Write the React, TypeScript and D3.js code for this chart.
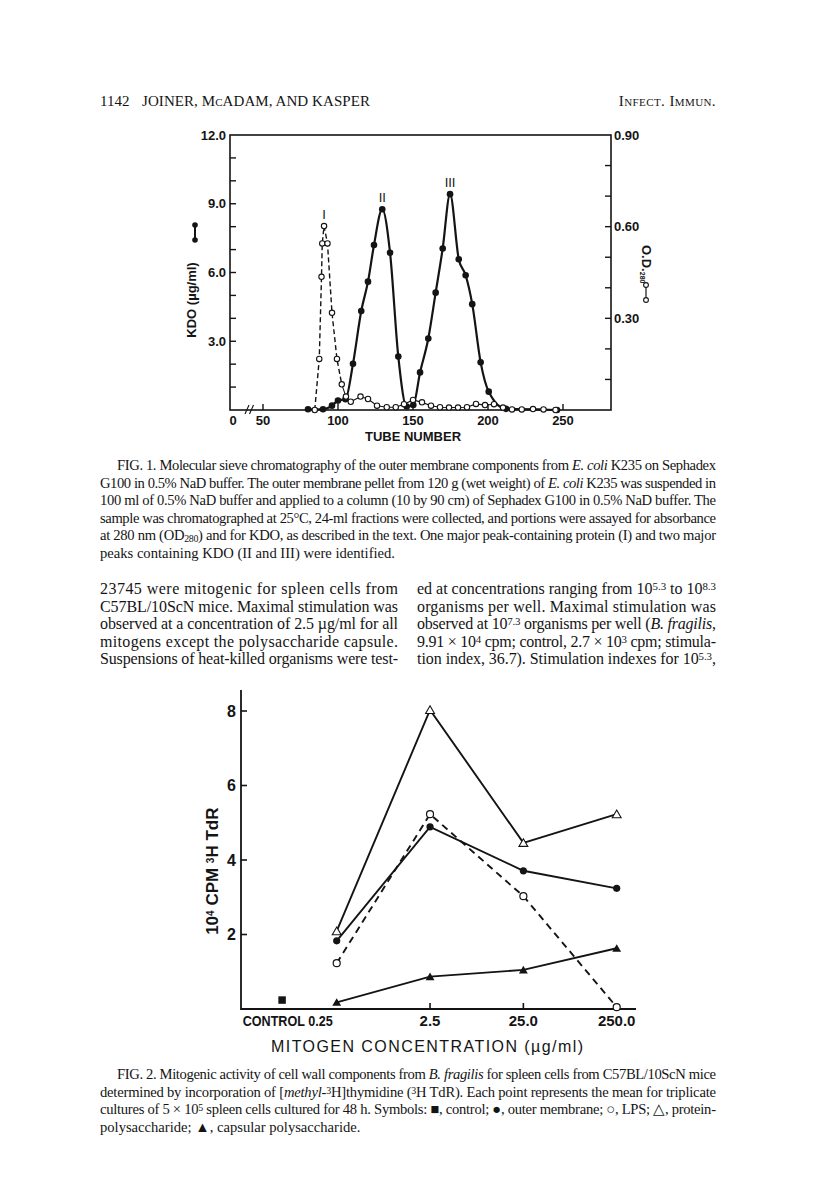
import React, { useEffect, useRef } from 'react';
import { select, scaleLinear, scaleLog, line, curveMonotoneX, curveLinear, symbol, symbolTriangle, symbolSquare, range } from 'd3';

// ---- Fig. 1 data (tube number vs KDO / OD280) ----
const tubeTicks = [50, 100, 150, 200, 250];
const kdoTicks = [3, 6, 9, 12];
const odTicks = [0.3, 0.6, 0.9];

const kdoTubes = [80, 90, 96, 100, 105, 110, 115.5, 120, 124, 129.5, 134.7, 140.2, 145.8, 150.2, 154.7, 160.2, 165.1, 169.8, 174.7, 180.5, 185.1, 189.5, 195.1, 200.5, 212, 246];
const kdoValues = [0.03, 0.03, 0.19, 0.41, 0.47, 2.02, 4.32, 5.6, 7.2, 8.76, 6.86, 2.33, 0.15, 0.22, 1.64, 3.12, 5.12, 7.05, 9.42, 6.58, 5.88, 4.62, 2.08, 0.8, 0.05, 0];

const odTubes = [84.5, 87.5, 89, 89.5, 90.7, 93, 96, 99.3, 102.5, 105.3, 108.5, 115, 120, 126, 132.5, 138.5, 144, 150, 156, 162, 168, 174, 180, 186, 192, 198, 204, 210, 216, 222.5, 230, 237, 245];
const odValues = [0, 0.167, 0.436, 0.545, 0.602, 0.545, 0.318, 0.167, 0.084, 0.044, 0.027, 0.044, 0.036, 0.014, 0.009, 0.009, 0.019, 0.033, 0.025, 0.014, 0.009, 0.008, 0.008, 0.009, 0.02, 0.016, 0.019, 0.008, 0.002, 0.002, 0.003, 0.002, 0];
const odDashedUntil = 8; // index where the dashed peak part ends

const peakLabels = ['I', 'II', 'III'];
const peakTubes = [90.7, 129.5, 174.7];

// ---- Fig. 2 data (mitogen concentration vs 10^4 cpm) ----
const doses = [0.25, 2.5, 25, 250];
const doseLabels = ['0.25', '2.5', '25.0', '250.0'];
const cpmTicks = [2, 4, 6, 8];
const controlDose = 0.065;
const controlValue = 0.24;
const outerMembrane = [1.83, 4.89, 3.71, 3.24];
const lps = [1.23, 5.23, 3.03, 0.05];
const proteinPoly = [2.09, 8.03, 4.46, 5.23];
const capsular = [0.18, 0.87, 1.05, 1.63];

// ---- page text ----
type Seg = [string, string?];
const fig1Caption: Seg[][] = [
  [['FIG. 1. Molecular sieve chromatography of the outer membrane components from '], ['E. coli', 'i'], [' K235 on Sephadex']],
  [['G100 in 0.5% NaD buffer. The outer membrane pellet from 120 g (wet weight) of '], ['E. coli', 'i'], [' K235 was suspended in']],
  [['100 ml of 0.5% NaD buffer and applied to a column (10 by 90 cm) of Sephadex G100 in 0.5% NaD buffer. The']],
  [['sample was chromatographed at 25°C, 24-ml fractions were collected, and portions were assayed for absorbance']],
  [['at 280 nm (OD'], ['280', 'sub'], [') and for KDO, as described in the text. One major peak-containing protein (I) and two major']],
  [['peaks containing KDO (II and III) were identified.']],
];
const bodyLeft: Seg[][] = [
  [['23745 were mitogenic for spleen cells from']],
  [['C57BL/10ScN mice. Maximal stimulation was']],
  [['observed at a concentration of 2.5 µg/ml for all']],
  [['mitogens except the polysaccharide capsule.']],
  [['Suspensions of heat-killed organisms were test-']],
];
const bodyRight: Seg[][] = [
  [['ed at concentrations ranging from 10'], ['5.3', 'sup'], [' to 10'], ['8.3', 'sup']],
  [['organisms per well. Maximal stimulation was']],
  [['observed at 10'], ['7.3', 'sup'], [' organisms per well ('], ['B. fragilis', 'i'], [',']],
  [['9.91 × 10'], ['4', 'sup'], [' cpm; control, 2.7 × 10'], ['3', 'sup'], [' cpm; stimula-']],
  [['tion index, 36.7). Stimulation indexes for 10'], ['5.3', 'sup'], [',']],
];
const fig2Caption: Seg[][] = [
  [['FIG. 2. Mitogenic activity of cell wall components from '], ['B. fragilis', 'i'], [' for spleen cells from C57BL/10ScN mice']],
  [['determined by incorporation of ['], ['methyl', 'i'], ['-'], ['3', 'sup'], ['H]thymidine ('], ['3', 'sup'], ['H TdR). Each point represents the mean for triplicate']],
  [['cultures of 5 × 10'], ['5', 'sup'], [' spleen cells cultured for 48 h. Symbols: ■, control; ●, outer membrane; ○, LPS; △, protein-']],
  [['polysaccharide; ▲, capsular polysaccharide.']],
];

const SERIF = '"Liberation Serif", "Times New Roman", serif';
const SANS = '"Liberation Sans", Arial, sans-serif';
const INK = '#141414';

function addLine(g: any, x: number, y: number, segs: Seg[], size: number, width?: number) {
  const t = g.append('text')
    .attr('x', x).attr('y', y)
    .attr('font-family', SERIF).attr('font-size', size).attr('fill', INK);
  segs.forEach(([s, k]) => {
    const ts = t.append('tspan').text(s);
    if (k === 'i') ts.attr('font-style', 'italic');
    if (k === 'sup') ts.attr('baseline-shift', '35%').attr('font-size', size * 0.68);
    if (k === 'sub') ts.attr('baseline-shift', '-20%').attr('font-size', size * 0.68);
  });
  if (width) t.attr('textLength', width).attr('lengthAdjust', 'spacing');
}

// justified lines, last line of a paragraph left ragged
function addParagraph(g: any, lines: Seg[][], x: number, y0: number, lh: number, right: number, size: number, indent = 0, lastRagged = true) {
  lines.forEach((segs, i) => {
    const lx = x + (i === 0 ? indent : 0);
    const ragged = lastRagged && i === lines.length - 1;
    addLine(g, lx, y0 + i * lh, segs, size, ragged ? undefined : right - lx);
  });
}

export default function App() {
  const ref = useRef<SVGSVGElement>(null);

  useEffect(() => {
    const svg = select(ref.current);
    svg.selectAll('*').remove();
    svg.append('rect').attr('width', 816).attr('height', 1200).attr('fill', '#fff');

    // 页眉
    const head = svg.append('g').attr('font-family', SERIF).attr('font-size', 15).attr('fill', INK);
    head.append('text').attr('x', 100).attr('y', 106).text('1142');
    head.append('text').attr('x', 142).attr('y', 106).attr('textLength', 228).attr('lengthAdjust', 'spacing')
      .style('font-variant', 'small-caps').text('JOINER, McADAM, AND KASPER');
    head.append('text').attr('x', 716).attr('y', 106).attr('text-anchor', 'end').attr('letter-spacing', 0.4)
      .style('font-variant', 'small-caps').text('Infect. Immun.');

    /* ================= Fig. 1 ================= */
    const f1 = svg.append('g');
    const left = 230, right = 611, top = 135, bottom = 410;
    const x = scaleLinear().domain([50, 250]).range([263, 563]);
    const yK = scaleLinear().domain([0, 12]).range([bottom, top]);
    const yO = scaleLinear().domain([0, 0.9]).range([bottom, top]);

    // frame
    f1.append('rect').attr('x', left).attr('y', top).attr('width', right - left).attr('height', bottom - top)
      .attr('fill', 'none').attr('stroke', INK).attr('stroke-width', 1.6);

    // left ticks (every 1.0, labels every 3.0)
    f1.selectAll('.lt').data(range(1, 12)).enter().append('line')
      .attr('x1', left).attr('x2', left + 6).attr('y1', d => yK(d)).attr('y2', d => yK(d))
      .attr('stroke', INK).attr('stroke-width', 1.4);
    f1.selectAll('.ll').data(kdoTicks).enter().append('text')
      .attr('x', left - 4).attr('y', d => yK(d)).attr('dy', '0.36em').attr('text-anchor', 'end')
      .attr('font-family', SANS).attr('font-weight', 'bold').attr('font-size', 13).attr('fill', INK)
      .text(d => d.toFixed(1));

    // right ticks (every 0.1, labels every 0.30)
    f1.selectAll('.rt').data(range(1, 9).map(d => d / 10)).enter().append('line')
      .attr('x1', right - 6).attr('x2', right).attr('y1', d => yO(d)).attr('y2', d => yO(d))
      .attr('stroke', INK).attr('stroke-width', 1.4);
    f1.selectAll('.rl').data(odTicks).enter().append('text')
      .attr('x', right + 3).attr('y', d => yO(d)).attr('dy', '0.36em')
      .attr('font-family', SANS).attr('font-weight', 'bold').attr('font-size', 13).attr('fill', INK)
      .text(d => d.toFixed(2));

    // x ticks + labels
    f1.selectAll('.xt').data(tubeTicks).enter().append('line')
      .attr('x1', d => x(d)).attr('x2', d => x(d)).attr('y1', bottom).attr('y2', bottom - 6)
      .attr('stroke', INK).attr('stroke-width', 1.4);
    f1.selectAll('.xl').data(tubeTicks).enter().append('text')
      .attr('x', d => x(d)).attr('y', bottom + 15).attr('text-anchor', 'middle')
      .attr('font-family', SANS).attr('font-weight', 'bold').attr('font-size', 13).attr('fill', INK)
      .text(d => d);
    f1.append('text').attr('x', left + 3).attr('y', bottom + 15).attr('text-anchor', 'middle')
      .attr('font-family', SANS).attr('font-weight', 'bold').attr('font-size', 13).attr('fill', INK).text('0');
    // axis break //
    [0, 4.5].forEach(o => {
      f1.append('line').attr('x1', left + 15 + o).attr('y1', bottom + 4).attr('x2', left + 19 + o).attr('y2', bottom - 5)
        .attr('stroke', INK).attr('stroke-width', 1.1);
    });
    f1.append('text').attr('x', 413).attr('y', bottom + 31).attr('text-anchor', 'middle')
      .attr('font-family', SANS).attr('font-weight', 'bold').attr('font-size', 13).attr('fill', INK).text('TUBE NUMBER');

    // axis titles
    f1.append('text').attr('transform', `translate(196,${(yK(4.8))}) rotate(-90)`).attr('text-anchor', 'middle')
      .attr('font-family', SANS).attr('font-weight', 'bold').attr('font-size', 13).attr('fill', INK).text('KDO (µg/ml)');
    f1.append('line').attr('x1', 195).attr('x2', 195).attr('y1', 225).attr('y2', 240).attr('stroke', INK).attr('stroke-width', 2);
    [225, 240].forEach(cy => f1.append('circle').attr('cx', 195).attr('cy', cy).attr('r', 2.8).attr('fill', INK));

    const od = f1.append('text').attr('transform', 'translate(642,245) rotate(90)')
      .attr('font-family', SANS).attr('font-weight', 'bold').attr('font-size', 13).attr('fill', INK);
    od.append('tspan').text('O.D.');
    od.append('tspan').attr('font-size', 7).attr('baseline-shift', '-30%').text('280');
    f1.append('line').attr('x1', 646).attr('x2', 646).attr('y1', 285).attr('y2', 300).attr('stroke', INK).attr('stroke-width', 1.2);
    [285, 300].forEach(cy => f1.append('circle').attr('cx', 646).attr('cy', cy).attr('r', 2.4)
      .attr('fill', '#fff').attr('stroke', INK).attr('stroke-width', 1.1));

    // KDO curve (solid, smooth)
    const kdoPts = kdoTubes.map((t, i) => [t, kdoValues[i]] as [number, number]);
    const kLine = line<[number, number]>().x(d => x(d[0])).y(d => yK(d[1])).curve(curveMonotoneX);
    f1.append('path').attr('d', kLine(kdoPts)).attr('fill', 'none').attr('stroke', INK).attr('stroke-width', 2.2);

    // OD280 curve: dashed peak, thin line afterwards
    const odPts = odTubes.map((t, i) => [t, odValues[i]] as [number, number]);
    const oLine = line<[number, number]>().x(d => x(d[0])).y(d => yO(d[1])).curve(curveLinear);
    f1.append('path').attr('d', oLine(odPts.slice(0, odDashedUntil + 1))).attr('fill', 'none')
      .attr('stroke', INK).attr('stroke-width', 1.4).attr('stroke-dasharray', '5,3');
    f1.append('path').attr('d', oLine(odPts.slice(odDashedUntil))).attr('fill', 'none')
      .attr('stroke', INK).attr('stroke-width', 1.1);

    f1.selectAll('.kd').data(kdoPts).enter().append('circle')
      .attr('cx', d => x(d[0])).attr('cy', d => yK(d[1])).attr('r', 3.3).attr('fill', INK);
    f1.selectAll('.od').data(odPts).enter().append('circle')
      .attr('cx', d => x(d[0])).attr('cy', d => yO(d[1])).attr('r', 2.7)
      .attr('fill', '#fff').attr('stroke', INK).attr('stroke-width', 1.1);

    // peak labels
    peakLabels.forEach((lab, i) => {
      const t = peakTubes[i];
      const yy = i === 0 ? yO(odValues[odTubes.indexOf(t)]) : yK(kdoValues[kdoTubes.indexOf(t)]);
      f1.append('text').attr('x', x(t)).attr('y', yy - 7).attr('text-anchor', 'middle')
        .attr('font-family', SANS).attr('font-size', 13).attr('fill', INK).text(lab);
    });

    /* ================= text ================= */
    const txt = svg.append('g');
    addParagraph(txt, fig1Caption, 100, 470, 17.5, 716, 14.6, 17);
    addParagraph(txt, bodyLeft, 100, 594, 17.5, 398, 16, 0, false);
    addParagraph(txt, bodyRight, 417, 594, 17.5, 716, 16, 0, false);
    addParagraph(txt, fig2Caption, 100, 1079, 17.5, 716, 14.6, 17);

    /* ================= Fig. 2 ================= */
    const f2 = svg.append('g');
    const ax = 241, ay0 = 1009;
    const x2 = scaleLog().domain([0.25, 250]).range([336.7, 616.7]);
    const y2 = scaleLinear().domain([0, 8]).range([ay0, 711]);

    f2.append('path').attr('d', `M${ax},690V${ay0}H636`).attr('fill', 'none').attr('stroke', INK).attr('stroke-width', 1.8);
    f2.selectAll('.yt').data(cpmTicks).enter().append('line')
      .attr('x1', ax).attr('x2', ax + 6).attr('y1', d => y2(d)).attr('y2', d => y2(d))
      .attr('stroke', INK).attr('stroke-width', 1.6);
    f2.selectAll('.yl').data(cpmTicks).enter().append('text')
      .attr('x', ax - 5).attr('y', d => y2(d)).attr('dy', '0.36em').attr('text-anchor', 'end')
      .attr('font-family', SANS).attr('font-weight', 'bold').attr('font-size', 16).attr('fill', INK).text(d => d);
    f2.selectAll('.xt').data(doses.slice(1, 3)).enter().append('line')
      .attr('x1', d => x2(d)).attr('x2', d => x2(d)).attr('y1', ay0).attr('y2', ay0 - 6)
      .attr('stroke', INK).attr('stroke-width', 1.6);
    f2.selectAll('.xl').data(doses.slice(1)).enter().append('text')
      .attr('x', d => x2(d)).attr('y', ay0 + 17).attr('text-anchor', 'middle')
      .attr('font-family', SANS).attr('font-weight', 'bold').attr('font-size', 15).attr('fill', INK)
      .text((d, i) => doseLabels[i + 1]);
    f2.append('text').attr('x', x2(doses[0]) - 4).attr('y', ay0 + 17).attr('text-anchor', 'end')
      .attr('font-family', SANS).attr('font-weight', 'bold').attr('font-size', 15).attr('fill', INK)
      .attr('textLength', 90).attr('lengthAdjust', 'spacingAndGlyphs')
      .text('CONTROL ' + doseLabels[0]);
    f2.append('text').attr('x', 427).attr('y', ay0 + 43).attr('text-anchor', 'middle')
      .attr('font-family', SANS).attr('font-size', 16).attr('fill', INK)
      .attr('textLength', 312).attr('lengthAdjust', 'spacing')
      .text('MITOGEN CONCENTRATION (µg/ml)');

    const yl = f2.append('text').attr('transform', `translate(218,${y2(3.7)}) rotate(-90)`).attr('text-anchor', 'middle')
      .attr('font-family', SANS).attr('font-weight', 'bold').attr('font-size', 17).attr('fill', INK);
    yl.append('tspan').text('10');
    yl.append('tspan').attr('font-size', 10).attr('baseline-shift', '45%').text('4');
    yl.append('tspan').text(' CPM ');
    yl.append('tspan').attr('font-size', 10).attr('baseline-shift', '45%').text('3');
    yl.append('tspan').text('H TdR');

    const series = [
      { v: proteinPoly, dash: null, mark: 'otri' },
      { v: outerMembrane, dash: null, mark: 'ccirc' },
      { v: lps, dash: '7,5', mark: 'ocirc' },
      { v: capsular, dash: null, mark: 'ctri' },
    ];
    const l2 = line<number>().x((d, i) => x2(doses[i])).y(d => y2(d));
    series.forEach(s => {
      const p = f2.append('path').attr('d', l2(s.v)).attr('fill', 'none').attr('stroke', INK).attr('stroke-width', 1.9);
      if (s.dash) p.attr('stroke-dasharray', s.dash);
    });
    const tri = symbol().type(symbolTriangle).size(34);
    series.forEach(s => {
      const g = f2.append('g');
      s.v.forEach((d, i) => {
        const cx = x2(doses[i]), cy = y2(d);
        if (s.mark === 'ccirc') g.append('circle').attr('cx', cx).attr('cy', cy).attr('r', 3.6).attr('fill', INK);
        if (s.mark === 'ocirc') g.append('circle').attr('cx', cx).attr('cy', cy).attr('r', 3.5).attr('fill', '#fff').attr('stroke', INK).attr('stroke-width', 1.2);
        if (s.mark === 'otri') g.append('path').attr('d', tri()).attr('transform', `translate(${cx},${cy + 1})`).attr('fill', '#fff').attr('stroke', INK).attr('stroke-width', 1.1);
        if (s.mark === 'ctri') g.append('path').attr('d', tri()).attr('transform', `translate(${cx},${cy + 1})`).attr('fill', INK);
      });
    });
    f2.append('path').attr('d', symbol().type(symbolSquare).size(56)())
      .attr('transform', `translate(${x2(controlDose)},${y2(controlValue)})`).attr('fill', INK);
  }, []);

  return (
    <svg ref={ref} width={816} height={1200} style={{ position: 'absolute', left: 0, top: 0, display: 'block' }} />
  );
}
